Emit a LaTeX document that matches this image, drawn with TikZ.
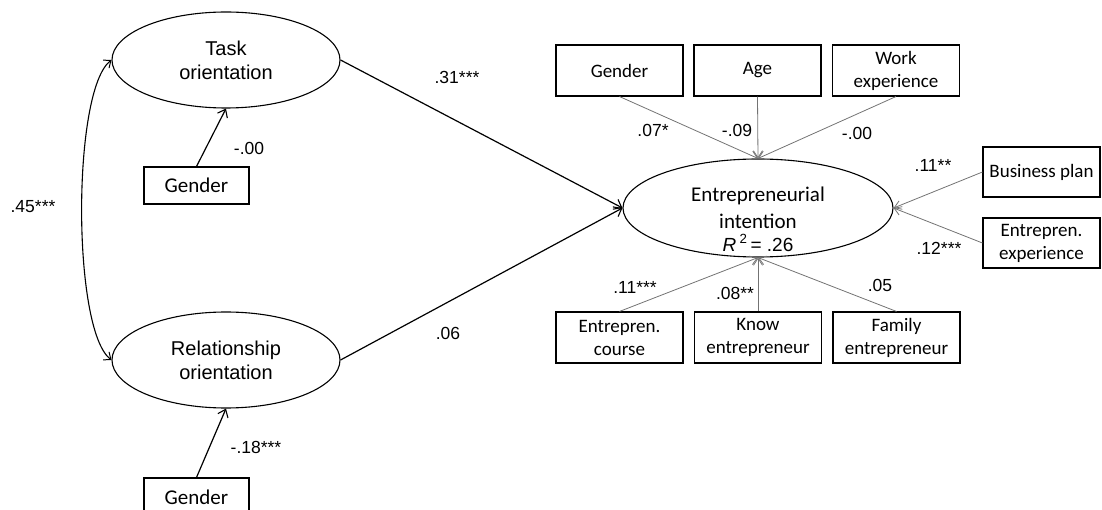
\documentclass[tikz,border=0pt]{standalone}
\usepackage{fontspec}
\setmainfont{Liberation Sans}
\newfontfamily\boxfont{Carlito}
\usetikzlibrary{shapes.geometric,arrows.meta}

\begin{document}
\begin{tikzpicture}[x=1bp,y=-1bp,
  latent/.style={ellipse,draw,line width=1.1bp,inner sep=0pt,align=center,
    font=\fontsize{20bp}{24bp}\selectfont},
  obsbox/.style={rectangle,draw,line width=1.1bp,inner sep=0pt,align=center,
    font=\boxfont\fontsize{19bp}{23bp}\selectfont},
  bigbox/.style={obsbox,font=\boxfont\fontsize{21bp}{25bp}\selectfont},
  coef/.style={inner sep=0pt,font=\fontsize{17.5bp}{21bp}\selectfont},
  mainpath/.style={line width=1.2bp,-{Straight Barb[length=7bp,width=11bp,line width=1.1bp]}},
  ctrlpath/.style={line width=0.8bp,black!55,-{Straight Barb[length=7bp,width=9bp,line width=0.8bp]}},
  corr/.style={line width=1.1bp,{Straight Barb[length=6bp,width=10bp,line width=1bp]}-{Straight Barb[length=6bp,width=10bp,line width=1bp]}}
]
\useasboundingbox (0,0) rectangle (1102,510);

% latent constructs
\node[latent,minimum width=228bp,minimum height=96bp] (task) at (226,60) {Task\\orientation};
\node[latent,minimum width=228bp,minimum height=96bp] (rel) at (226,360) {Relationship\\orientation};
\node[ellipse,draw,line width=1.1bp,inner sep=0pt,minimum width=270bp,minimum height=98bp] (ei) at (758,208) {};
\node[align=center,inner sep=0pt,font=\boxfont\fontsize{21bp}{27bp}\selectfont] (eilab) at (758,219)
  {Entrepreneurial\\intention\\[-4bp]{\fontspec{Liberation Sans}\fontsize{19bp}{22bp}\selectfont\textit{R}\,\textsuperscript{2}\,= .26}};

% gender controls of the orientations
\node[bigbox,minimum width=105bp,minimum height=37bp] (g1) at (196.5,185.5) {Gender};
\node[bigbox,minimum width=105bp,minimum height=38bp] (g2) at (196.5,497) {Gender};

% control variables
\node[obsbox,minimum width=127bp,minimum height=51bp] (cgen) at (619.5,70.5) {Gender};
\node[obsbox,minimum width=127bp,minimum height=51bp] (cage) at (757.5,70.5) {Age};
\node[obsbox,minimum width=127bp,minimum height=51bp] (cwork) at (896,70.5) {Work\\experience};
\node[obsbox,minimum width=117bp,minimum height=50bp] (cbus) at (1041.5,172) {Business plan};
\node[obsbox,minimum width=117bp,minimum height=50bp] (cexp) at (1041.5,243) {Entrepren.\\experience};
\node[obsbox,minimum width=127bp,minimum height=51bp] (ccourse) at (619.5,337.5) {Entrepren.\\course};
\node[obsbox,minimum width=127bp,minimum height=51bp] (cknow) at (758,337.5) {Know\\entrepreneur};
\node[obsbox,minimum width=127bp,minimum height=51bp] (cfam) at (896.5,337.5) {Family\\entrepreneur};

% structural paths
\draw[mainpath] (task.east) -- (ei.west);
\draw[mainpath] (rel.east) -- (ei.west);
\draw[mainpath] (g1.north) -- (task.south);
\draw[mainpath] (g2.north) -- (rel.south);
\draw[corr] (task.west) .. controls (72,90) and (72,330) .. (rel.west);

% control paths
\draw[ctrlpath] (cgen.south) -- (ei.north);
\draw[ctrlpath] (cage.south) -- (ei.north);
\draw[ctrlpath] (cwork.south) -- (ei.north);
\draw[ctrlpath] (cbus.west) -- (ei.east);
\draw[ctrlpath] (cexp.west) -- (ei.east);
\draw[ctrlpath] (ccourse.north) -- (ei.south);
\draw[ctrlpath] (cknow.north) -- (ei.south);
\draw[ctrlpath] (cfam.north) -- (ei.south);

% coefficients
\node[coef] (k1) at (457,77) {.31***};
\node[coef] (k2) at (448,333) {.06};
\node[coef] (k3) at (249,148) {-.00};
\node[coef] (k4) at (256,447) {-.18***};
\node[coef] (k5) at (33,207) {.45***};
\node[coef] (k6) at (653,130) {.07*};
\node[coef] (k7) at (737,130) {-.09};
\node[coef] (k8) at (857,133) {-.00};
\node[coef] (k9) at (933,165) {.11**};
\node[coef] (k10) at (939,248) {.12***};
\node[coef] (k11) at (635,287) {.11***};
\node[coef] (k12) at (735,293) {.08**};
\node[coef] (k13) at (880,285) {.05};
\end{tikzpicture}
\end{document}
